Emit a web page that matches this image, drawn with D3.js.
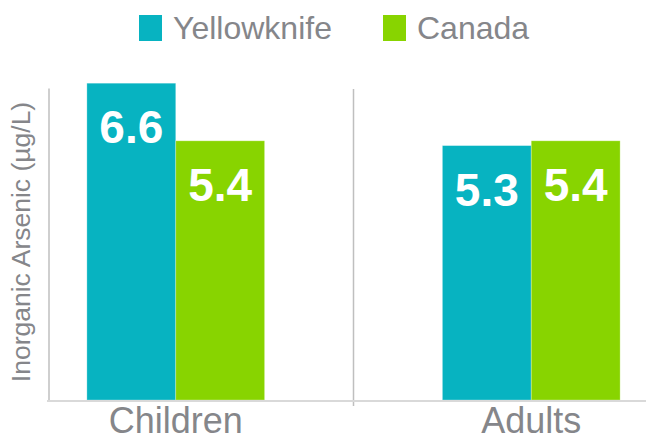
<!DOCTYPE html>
<html>
<head>
<meta charset="utf-8">
<script src="https://cdn.jsdelivr.net/npm/d3@7"></script>
<style>
  html, body { margin: 0; padding: 0; background: #fff; }
  svg { display: block; font-family: "Liberation Sans", Arial, sans-serif; }
</style>
</head>
<body>
<div id="chart"></div>
<script>
// grouped bars — inorganic arsenic, Yellowknife vs Canada
const categories = ['Children', 'Adults'];
const seriesNames = ['Yellowknife', 'Canada'];
const yellowknife = [6.6, 5.3];
const canada = [5.4, 5.4];
const seriesColors = ['#07b3c1', '#88d400'];
const yTitle = 'Inorganic Arsenic (\u00b5g/L)';

const W = 646, H = 441;
const base = 400;

const svg = d3.select('#chart').append('svg')
  .attr('width', W).attr('height', H);

/* ─── scales ───────────────────────────────────────── */
const x0 = d3.scaleBand().domain(categories).range([-2, 709]);
const x1 = d3.scaleBand().domain(seriesNames)
  .range([x0.bandwidth() * 0.25, x0.bandwidth() * 0.75]);
const y = d3.scaleLinear().domain([0, 6.5]).range([base, 88]);

const rows = categories.map((c, i) => ({
  cat: c,
  vals: [{ s: seriesNames[0], v: yellowknife[i] }, { s: seriesNames[1], v: canada[i] }]
}));
const color = d3.scaleOrdinal().domain(seriesNames).range(seriesColors);

/* ─── axes lines ───────────────────────────────────── */
svg.append('g')
  .attr('transform', 'translate(48.5,0)')
  .call(d3.axisLeft(y).tickValues([]).tickSizeOuter(0))
  .call(g => g.select('.domain').attr('stroke', '#bfbfbf').attr('stroke-width', 1.5));

// divider between categories
svg.append('line')
  .attr('x1', x0('Adults')).attr('x2', x0('Adults'))
  .attr('y1', y(6.5) + 1).attr('y2', base + 6)
  .attr('stroke', '#bfbfbf').attr('stroke-width', 1.5);

/* ─── bars ─────────────────────────────────────────── */
const groups = svg.append('g').selectAll('g')
  .data(rows).join('g')
  .attr('transform', d => `translate(${x0(d.cat)},0)`);

groups.selectAll('rect')
  .data(d => d.vals).join('rect')
  .attr('x', d => x1(d.s))
  .attr('y', d => y(d.v))
  .attr('width', x1.bandwidth())
  .attr('height', d => base - y(d.v))
  .attr('fill', d => color(d.s))
  .attr('stroke', 'rgba(255,255,255,0.35)')
  .attr('stroke-width', 0.8);

groups.selectAll('text')
  .data(d => d.vals).join('text')
  .attr('x', d => x1(d.s) + x1.bandwidth() / 2)
  .attr('y', d => y(d.v) + 60)
  .attr('text-anchor', 'middle')
  .attr('fill', '#fff')
  .attr('font-weight', 'bold')
  .attr('font-size', 46)
  .text(d => d.v.toFixed(1));

// baseline
svg.append('line')
  .attr('x1', 47).attr('x2', W)
  .attr('y1', base + 1).attr('y2', base + 1)
  .attr('stroke', '#d9d9d9').attr('stroke-width', 2);

/* ─── category labels ──────────────────────────────── */
svg.append('g').selectAll('text')
  .data(categories).join('text')
  .attr('x', d => x0(d) + x0.bandwidth() / 2)
  .attr('y', 433)
  .attr('text-anchor', 'middle')
  .attr('fill', '#85868a')
  .attr('font-size', 36)
  .text(d => d);

/* ─── y title ──────────────────────────────────────── */
svg.append('text')
  .attr('transform', `translate(30,${(y(6.5) + base) / 2 - 2}) rotate(-90)`)
  .attr('text-anchor', 'middle')
  .attr('fill', '#85868a')
  .attr('font-size', 26.5)
  .text(yTitle);

/* ─── legend ───────────────────────────────────────── */
const legendX = [139, 383];
const legend = svg.append('g').selectAll('g')
  .data(seriesNames).join('g')
  .attr('transform', (d, i) => `translate(${legendX[i]},15)`);

legend.append('rect')
  .attr('width', 23).attr('height', 26)
  .attr('fill', d => color(d));

legend.append('text')
  .attr('x', 34).attr('y', 24)
  .attr('fill', '#85868a')
  .attr('font-size', 32)
  .text(d => d);
</script>
</body>
</html>
